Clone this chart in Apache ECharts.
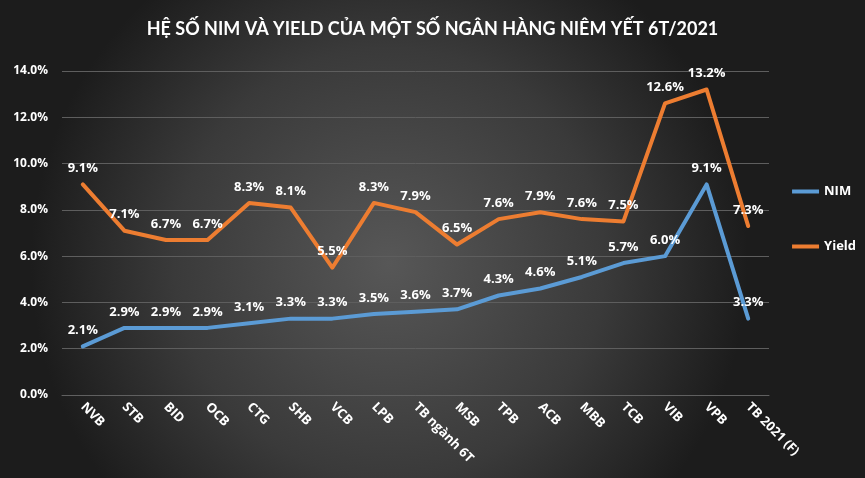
<!DOCTYPE html>
<html>
<head>
<meta charset="utf-8">
<script src="https://cdn.jsdelivr.net/npm/echarts@6/dist/echarts.min.js"></script>
<style>
html,body{margin:0;padding:0;background:#2a2a2a;}
#chart{width:865px;height:478px;}
</style>
</head>
<body>
<div id="chart"></div>
<script>
const title = 'HỆ SỐ NIM VÀ YIELD CỦA MỘT SỐ NGÂN HÀNG NIÊM YẾT 6T/2021';
const categories = ['NVB','STB','BID','OCB','CTG','SHB','VCB','LPB','TB ngành 6T','MSB','TPB','ACB','MBB','TCB','VIB','VPB','TB 2021 (F)'];
const nimValues = [2.1,2.9,2.9,2.9,3.1,3.3,3.3,3.5,3.6,3.7,4.3,4.6,5.1,5.7,6.0,9.1,3.3];
const yieldValues = [9.1,7.1,6.7,6.7,8.3,8.1,5.5,8.3,7.9,6.5,7.6,7.9,7.6,7.5,12.6,13.2,7.3];
const yTicks = {min:0, max:14, interval:2};

const font = 'Open Sans';
const chart = echarts.init(document.getElementById('chart'), null, {renderer:'canvas'});
const labelStyle = {
  show:true, position:'top', distance:9, color:'#ffffff', fontWeight:'bold',
  fontSize:13, fontFamily:font,
  formatter: p => p.value.toFixed(1) + '%'
};
chart.setOption({
  backgroundColor: {
    type:'radial', x:0.45, y:0.55, r:0.75,
    colorStops:[{offset:0,color:'#575757'},{offset:0.6,color:'#3a3a3a'},{offset:1,color:'#1c1c1c'}]
  },
  textStyle:{fontFamily:font},
  title:{
    text:title, left:'center', top:15,
    textStyle:{color:'#ffffff', fontSize:18, fontWeight:'bold', fontFamily:'Lato'}
  },
  legend:{
    orient:'vertical', right:4, top:180, itemGap:42, itemWidth:27, itemHeight:4,
    textStyle:{color:'#ffffff', fontSize:13, fontWeight:'bold', fontFamily:font},
    data:[{name:'NIM', icon:'rect'},{name:'Yield', icon:'rect'}]
  },
  grid:{left:62, right:96, top:71, bottom:83, containLabel:false},
  xAxis:{
    type:'category', data:categories, boundaryGap:true,
    axisLine:{show:true, lineStyle:{color:'#606060', width:1}},
    axisTick:{show:false},
    axisLabel:{rotate:-45, interval:0, margin:10, color:'#ffffff', fontSize:13, fontWeight:'bold', fontFamily:font}
  },
  yAxis:{
    type:'value', min:yTicks.min, max:yTicks.max, interval:yTicks.interval,
    axisLine:{show:false}, axisTick:{show:false},
    splitLine:{lineStyle:{color:'#5e5e5e', width:1}},
    axisLabel:{margin:14, color:'#ffffff', fontSize:12, fontWeight:'bold', fontFamily:font,
      formatter: v => v.toFixed(1) + '%'}
  },
  series:[
    {name:'NIM', type:'line', data:nimValues, symbol:'circle', symbolSize:1, showSymbol:true,
     lineStyle:{color:'#5b9bd5', width:4, cap:'round', join:'round'},
     itemStyle:{color:'#5b9bd5'}, label:labelStyle, z:3},
    {name:'Yield', type:'line', data:yieldValues, symbol:'circle', symbolSize:1, showSymbol:true,
     lineStyle:{color:'#ed7d31', width:4, cap:'round', join:'round'},
     itemStyle:{color:'#ed7d31'}, label:labelStyle, z:2}
  ],
  animation:false
});
</script>
</body>
</html>
